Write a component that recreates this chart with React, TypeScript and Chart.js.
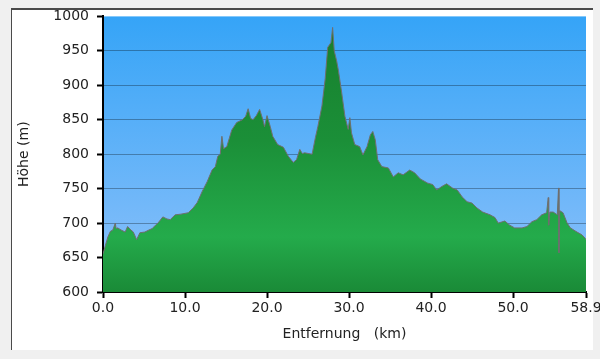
import React, { useEffect, useRef } from "react";
import { Chart, registerables } from "chart.js";

Chart.register(...registerables);

const distanceKm = [
  0.0, 0.3, 0.6, 0.9, 1.2, 1.5, 1.6, 1.8, 2.2, 2.7, 3.0, 3.4, 3.7, 4.1, 4.5, 5.1, 5.6, 6.0, 6.4, 6.7,
  7.3, 7.8, 8.2, 8.8, 9.5, 10.4, 11.0, 11.5, 12.1, 12.7, 13.3, 13.7, 14.0, 14.3, 14.5, 14.7, 15.1, 15.7,
  16.3, 17.0, 17.4, 17.7, 18.0, 18.3, 18.7, 19.1, 19.5, 19.7, 20.0, 20.4, 20.7, 21.3, 22.0, 22.6, 23.2,
  23.6, 24.0, 24.3, 24.6, 25.5, 25.9, 26.2, 26.7, 27.1, 27.4, 27.8, 28.0, 28.2, 28.5, 28.7, 29.1, 29.5,
  29.9, 30.1, 30.3, 30.7, 31.3, 31.7, 32.2, 32.6, 32.9, 33.2, 33.5, 34.0, 34.8, 35.4, 36.0, 36.6, 37.4,
  38.0, 38.7, 39.6, 40.2, 40.7, 41.3, 41.9, 42.6, 43.2, 43.8, 44.4, 45.0, 45.6, 46.3, 47.2, 47.8, 48.2,
  49.0, 49.6, 50.2, 51.1, 51.7, 52.3, 52.9, 53.5, 54.1, 54.3, 54.35, 54.5, 54.9, 55.4, 55.55, 55.6, 55.7,
  56.1, 56.6, 57.0, 57.8, 58.4, 58.8, 58.9,
];

const elevationM = [
  655, 668, 680, 688, 690, 700, 692, 693, 690, 687, 695, 690, 687, 676, 686, 687, 690, 692, 697, 700,
  709, 706, 705, 712, 713, 715, 722, 730, 746, 760, 777, 782, 797, 800, 826, 808, 811, 835,
  846, 850, 855, 866, 852, 850, 856, 865, 850, 840, 856, 840, 826, 814, 810, 797, 788,
  792, 807, 801, 802, 800, 824, 840, 870, 910, 955, 962, 984, 950, 935, 922, 890, 855,
  836, 853, 831, 814, 811, 799, 811, 828, 833, 821, 792, 782, 780, 767, 773, 770, 777,
  773, 764, 758, 756, 748, 753, 757, 751, 748, 738, 731, 729, 722, 716, 712, 708, 700,
  703, 697, 693, 693, 695, 702, 705, 712, 715, 737, 697, 716, 716, 712, 751, 657, 718,
  715, 700, 693, 687, 683, 678, 676,
];

const xTickValues = [0, 10, 20, 30, 40, 50, 58.9];
const yMin = 600;
const yMax = 1000;
const yStep = 50;
const xAxisTitle = "Entfernung   (km)";
const yAxisTitle = "Höhe (m)";

const FONT = "'DejaVu Sans', Verdana, sans-serif";

const skyPlugin = {
  id: "skyBackground",
  beforeDraw(chart: any) {
    const { ctx, chartArea: a } = chart;
    if (!a) return;
    const g = ctx.createLinearGradient(0, a.top, 0, a.bottom);
    g.addColorStop(0, "#35a4f7");
    g.addColorStop(1, "#8ec1fa");
    ctx.save();
    ctx.fillStyle = g;
    ctx.fillRect(a.left, a.top, a.right - a.left, a.bottom - a.top);
    ctx.restore();
  },
};

export default function App() {
  const canvasRef = useRef<HTMLCanvasElement | null>(null);

  useEffect(() => {
    document.body.style.margin = "0";
    const canvas = canvasRef.current;
    if (!canvas) return;
    const points = distanceKm.map((x, i) => ({ x, y: elevationM[i] }));

    const chart = new Chart(canvas, {
      type: "line",
      data: {
        datasets: [
          {
            data: points,
            borderColor: "#6f6f6f",
            borderWidth: 1,
            pointRadius: 0,
            tension: 0,
            fill: "start",
            backgroundColor: (c: any) => {
              const a = c.chart.chartArea;
              if (!a) return "#1f9a40";
              const g = c.chart.ctx.createLinearGradient(0, a.top, 0, a.bottom);
              g.addColorStop(0, "#177e2c");
              g.addColorStop(0.45, "#1b8f38");
              g.addColorStop(0.8, "#24ab4b");
              g.addColorStop(1, "#1a8a37");
              return g;
            },
          },
        ],
      },
      options: {
        responsive: false,
        animation: false,
        events: [],
        layout: { padding: { left: 12, top: 16, right: 14, bottom: 12 } },
        plugins: {
          legend: { display: false },
          tooltip: { enabled: false },
        },
        scales: {
          x: {
            type: "linear",
            min: 0,
            max: 58.9,
            z: 1,
            border: { color: "#000", width: 2 },
            grid: {
              drawOnChartArea: false,
              tickLength: 6,
              tickColor: "#000",
              tickWidth: 2,
            },
            afterBuildTicks: (s: any) => {
              s.ticks = xTickValues.map((v) => ({ value: v }));
            },
            afterFit: (s: any) => {
              s.height = 55;
              s.paddingRight = 0;
            },
            ticks: {
              autoSkip: false,
              maxRotation: 0,
              padding: 2,
              color: "#222",
              font: { family: FONT, size: 14 },
              callback: (v: any) => Number(v).toFixed(1),
            },
            title: {
              display: true,
              text: xAxisTitle,
              color: "#222",
              font: { family: FONT, size: 14 },
              padding: { top: 0, bottom: 4 },
            },
          },
          y: {
            min: yMin,
            max: yMax,
            z: 1,
            border: { color: "#000", width: 2 },
            grid: {
              color: (c: any) => (c.tick && c.tick.value === yMax ? "rgba(0,0,0,0)" : "rgba(0,0,0,0.3)"),
              lineWidth: 1,
              tickLength: 6,
              tickColor: "#000",
              tickWidth: 2,
            },
            afterFit: (s: any) => {
              s.width = 91;
            },
            ticks: {
              stepSize: yStep,
              padding: 8,
              color: "#222",
              font: { family: FONT, size: 14 },
              callback: (v: any) => String(Math.round(Number(v))),
            },
            title: {
              display: true,
              text: yAxisTitle,
              color: "#222",
              font: { family: FONT, size: 14 },
              padding: { top: 4, bottom: 0 },
            },
          },
        },
      },
      plugins: [skyPlugin],
    } as any);

    return () => chart.destroy();
  }, []);

  return (
    <div
      style={{
        position: "fixed",
        left: 0,
        top: 0,
        width: 600,
        height: 359,
        background: "#f0f0f0",
        overflow: "hidden",
      }}
    >
      <div
        style={{
          position: "absolute",
          left: 11,
          top: 8,
          width: 582,
          height: 342,
          background: "#ffffff",
          borderTop: "2px solid #4a4a4a",
          borderLeft: "1px solid #4a4a4a",
          boxSizing: "border-box",
        }}
      />
      <canvas
        ref={canvasRef}
        width={600}
        height={359}
        style={{ position: "absolute", left: 0, top: 0, width: 600, height: 359 }}
      />
    </div>
  );
}
